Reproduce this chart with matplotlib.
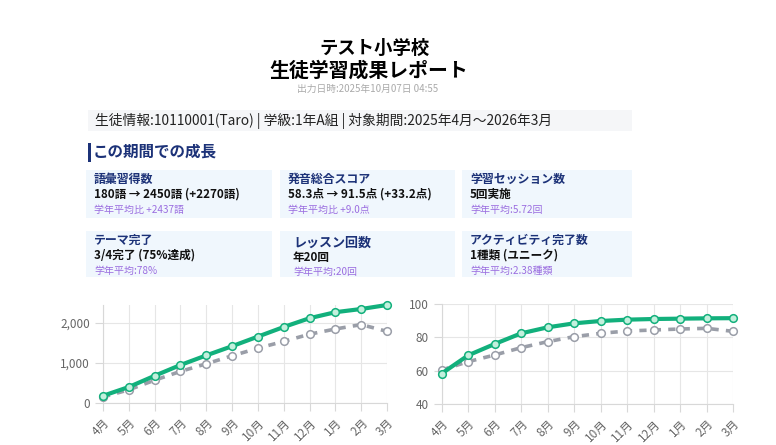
import matplotlib
matplotlib.use('Agg')
import matplotlib.pyplot as plt
from matplotlib.patches import Rectangle
from matplotlib.ticker import FuncFormatter

plt.rcParams['font.family'] = ['Noto Sans CJK JP', 'DejaVu Sans']

# データ
months = ['4月', '5月', '6月', '7月', '8月', '9月', '10月', '11月', '12月', '1月', '2月', '3月']
vocab_student = [180, 400, 680, 950, 1190, 1420, 1660, 1900, 2120, 2270, 2350, 2450]
vocab_average = [150, 330, 570, 790, 980, 1180, 1370, 1540, 1720, 1850, 1960, 1790]
pron_student = [58.3, 69.2, 76.0, 82.4, 86.0, 88.4, 89.8, 90.6, 91.0, 91.2, 91.4, 91.5]
pron_average = [60.4, 65.4, 69.4, 73.8, 77.4, 80.4, 82.4, 83.8, 84.4, 85.0, 85.4, 83.6]

school = 'テスト小学校'
report_title = '生徒学習成果レポート'
output_time = '出力日時:2025年10月07日 04:55'
student_info = '生徒情報:10110001(Taro) | 学級:1年A組 | 対象期間:2025年4月～2026年3月'
section_title = 'この期間での成長'

card_heads = ['語彙習得数', '発音総合スコア', '学習セッション数',
              'テーマ完了', 'レッスン回数', 'アクティビティ完了数']
card_values = ['180語 → 2450語 (+2270語)', '58.3点 → 91.5点 (+33.2点)', '5回実施',
               '3/4完了 (75%達成)', '年20回', '1種類 (ユニーク)']
card_subs = ['学年平均比 +2437語', '学年平均比 +9.0点', '学年平均:5.72回',
             '学年平均:78%', '学年平均:20回', '学年平均:2.38種類']

W, H = 776, 445
fig = plt.figure(figsize=(W / 100, H / 100), dpi=100)
fig.patch.set_facecolor('white')

navy = '#1c3278'
purple = '#9b6ee0'
card_bg = '#f0f7fd'


def px(x, y):
    return x / W, 1 - y / H


def rect(x0, y0, x1, y1, color):
    fig.patches.append(Rectangle((x0 / W, 1 - y1 / H), (x1 - x0) / W, (y1 - y0) / H,
                                 transform=fig.transFigure, facecolor=color,
                                 edgecolor='none', zorder=0))


# ヘッダー
fig.text(*px(375, 48), school, ha='center', va='center', fontsize=13.2, weight='bold')
fig.text(*px(369, 70), report_title, ha='center', va='center', fontsize=14.3, weight='bold')
fig.text(*px(368, 89), output_time, ha='center', va='center', fontsize=7, color='#aaaaaa')

rect(88, 110, 632, 131, '#f5f6f8')
fig.text(*px(95, 121), student_info, ha='left', va='center', fontsize=9.9, color='#222222')

rect(88, 143, 91, 162, navy)
fig.text(*px(93, 152), section_title, ha='left', va='center', fontsize=11.2,
         weight='bold', color=navy)

# カード
cols = [(86, 272), (280, 455), (462, 632)]
rows = [(170, 218), (231, 277)]
for i in range(6):
    r, c = divmod(i, 3)
    x0, x1 = cols[c]
    y0, y1 = rows[r]
    rect(x0, y0, x1, y1, card_bg)
    if i == 4:
        tx, hy, vy, sy, hs = x0 + 13, y0 + 12, y0 + 27, y0 + 41, 9.4
    else:
        tx, hy, vy, sy, hs = x0 + 8, y0 + 9, y0 + 24, y0 + 40, 8.6
    fig.text(*px(tx, hy), card_heads[i], ha='left', va='center', fontsize=hs,
             weight='bold', color=navy)
    fig.text(*px(tx, vy), card_values[i], ha='left', va='center', fontsize=8.4,
             weight='bold', color='#111111')
    fig.text(*px(tx, sy), card_subs[i], ha='left', va='center', fontsize=7.2,
             color=purple)

# グラフ
green = '#12b07c'
gray = '#9a9ea8'


def style_axes(ax):
    ax.set_xlim(0, len(months) - 1)
    ax.set_xticks(range(len(months)))
    ax.set_xticklabels(months, rotation=45, ha='right', rotation_mode='anchor')
    ax.grid(True, color='#e6e6e6', linewidth=0.8)
    ax.set_axisbelow(True)
    for s in ['top', 'right']:
        ax.spines[s].set_visible(False)
    for s in ['left', 'bottom']:
        ax.spines[s].set_color('#d8d8d8')
    ax.tick_params(colors='#d8d8d8', labelcolor='#666666', labelsize=8.5, length=6)


def draw(ax, student, average):
    x = range(len(months))
    ax.plot(x, average, color=gray, linewidth=2.6, linestyle=(0, (2, 2)),
            marker='o', markersize=5.5, markerfacecolor='white',
            markeredgecolor=gray, markeredgewidth=1.1, zorder=3, clip_on=False)
    ax.plot(x, student, color=green, linewidth=3, marker='o', markersize=5.5,
            markerfacecolor='#c3f0dd', markeredgecolor=green,
            markeredgewidth=1.1, zorder=4, clip_on=False)


ax1 = fig.add_axes([103 / W, 1 - 403 / H, 284 / W, 98 / H])
draw(ax1, vocab_student, vocab_average)
style_axes(ax1)
ax1.set_ylim(0, 2450)
ax1.set_yticks([0, 1000, 2000])
ax1.yaxis.set_major_formatter(FuncFormatter(lambda v, p: f'{int(v):,}'))

ax2 = fig.add_axes([441.7 / W, 1 - 404 / H, 291.3 / W, 100 / H])
draw(ax2, pron_student, pron_average)
style_axes(ax2)
ax2.set_ylim(40, 100)
ax2.set_yticks([40, 60, 80, 100])

fig.savefig('out.png', dpi=100, facecolor='white')
